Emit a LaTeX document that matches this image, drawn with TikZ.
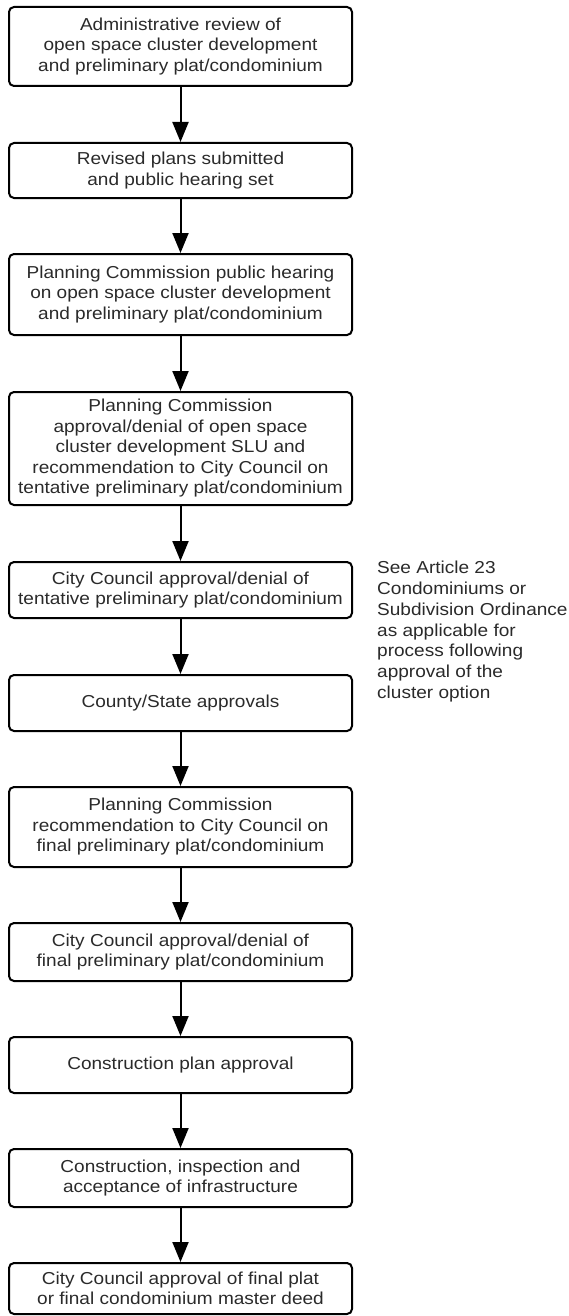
\documentclass[tikz,border=0pt]{standalone}
\usepackage{fontspec}
\setmainfont{Liberation Sans}[FakeStretch=1.1]
\usetikzlibrary{arrows.meta}
\definecolor{txt}{HTML}{2A2A2A}
\begin{document}
\begin{tikzpicture}[x=1pt,y=-1pt,
  box/.style={draw=black, line width=2pt, rounded corners=5pt, minimum width=343pt,
    align=center, text=txt, font=\fontsize{17.3}{20.5}\selectfont, inner sep=0pt},
  arr/.style={draw=black, line width=2pt, -{Triangle[length=20pt,width=16pt]}},
  note/.style={align=left, text=txt, font=\fontsize{17.3}{20.8}\selectfont, inner sep=0pt, anchor=north west}]
\useasboundingbox (0,0) rectangle (568,1316);
\node[box, minimum height=79pt] (b1) at (180.5,46.5) {Administrative review of\\open space cluster development\\and preliminary plat/condominium};
\node[box, minimum height=55pt] (b2) at (180.5,170.5) {Revised plans submitted\\and public hearing set};
\node[box, minimum height=81pt] (b3) at (180.5,294.5) {Planning Commission public hearing\\on open space cluster development\\and preliminary plat/condominium};
\node[box, minimum height=113pt] (b4) at (180.5,448.5) {Planning Commission\\approval/denial of open space\\cluster development SLU and\\recommendation to City Council on\\tentative preliminary plat/condominium};
\node[box, minimum height=56pt] (b5) at (180.5,590) {City Council approval/denial of\\tentative preliminary plat/condominium};
\node[box, minimum height=56pt] (b6) at (180.5,703) {County/State approvals};
\node[box, minimum height=80pt] (b7) at (180.5,827) {Planning Commission\\recommendation to City Council on\\final preliminary plat/condominium};
\node[box, minimum height=58pt] (b8) at (180.5,952) {City Council approval/denial of\\final preliminary plat/condominium};
\node[box, minimum height=56pt] (b9) at (180.5,1065) {Construction plan approval};
\node[box, minimum height=58pt] (b10) at (180.5,1178) {Construction, inspection and\\acceptance of infrastructure};
\node[box, minimum height=51pt] (b11) at (180.5,1288.5) {City Council approval of final plat\\or final condominium master deed};
\node[note] (n) at (377,561) {See Article 23\\Condominiums or\\Subdivision Ordinance\\as applicable for\\process following\\approval of the\\cluster option};
\draw[arr] (b1) -- (b2);
\draw[arr] (b2) -- (b3);
\draw[arr] (b3) -- (b4);
\draw[arr] (b4) -- (b5);
\draw[arr] (b5) -- (b6);
\draw[arr] (b6) -- (b7);
\draw[arr] (b7) -- (b8);
\draw[arr] (b8) -- (b9);
\draw[arr] (b9) -- (b10);
\draw[arr] (b10) -- (b11);
\end{tikzpicture}
\end{document}
